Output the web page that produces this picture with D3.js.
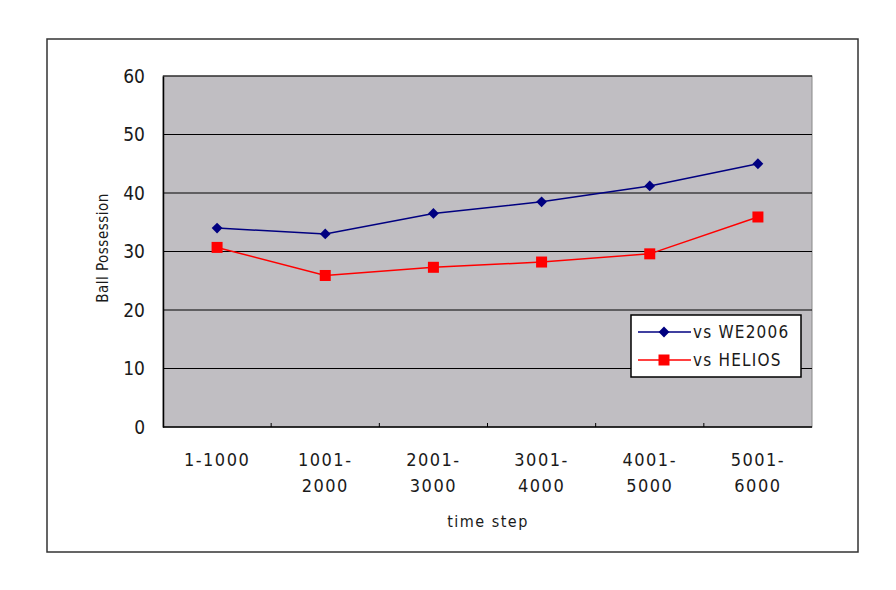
<!DOCTYPE html>
<html>
<head>
<meta charset="utf-8">
<script src="https://cdn.jsdelivr.net/npm/d3@7"></script>
<style>
  body { margin: 0; background: #fff; }
  text { font-family: "DejaVu Sans Condensed", "DejaVu Sans", sans-serif; fill: #1a1a1a; }
</style>
</head>
<body>
<svg id="chart" width="896" height="590"></svg>
<script>
// data
let categories = [["1-1000"], ["1001-", "2000"], ["2001-", "3000"], ["3001-", "4000"], ["4001-", "5000"], ["5001-", "6000"]];
let we2006 = [34.0, 33.0, 36.5, 38.5, 41.2, 45.0];
let helios = [30.7, 25.9, 27.3, 28.2, 29.6, 35.9];
let yTicks = [0, 10, 20, 30, 40, 50, 60];
let seriesNames = ["vs WE2006", "vs HELIOS"];

let fontStack = "DejaVu Sans Condensed, DejaVu Sans, sans-serif";
let svg = d3.select("#chart");

let plotLeft = 163, plotRight = 812, plotTop = 76, plotBottom = 427;

// outer frame
svg.append("rect")
    .attr("x", 47).attr("y", 39)
    .attr("width", 811).attr("height", 513)
    .style("fill", "#fff")
    .style("stroke", "#333")
    .style("stroke-width", "1.5px");

let xScale = d3.scaleBand()
    .domain(d3.range(categories.length))
    .range([plotLeft, plotRight]);
let yScale = d3.scaleLinear()
    .domain([0, 60])
    .range([plotBottom, plotTop]);

// plot area
svg.append("rect")
    .attr("x", plotLeft).attr("y", plotTop)
    .attr("width", plotRight - plotLeft).attr("height", plotBottom - plotTop)
    .style("fill", "#c0bec2")
    .style("stroke", "#888")
    .style("stroke-width", "1px");

// gridlines
svg.append("g")
    .selectAll("line")
    .data(yTicks.filter(d => d > 0))
    .join("line")
    .attr("x1", plotLeft).attr("x2", plotRight)
    .attr("y1", d => yScale(d)).attr("y2", d => yScale(d))
    .style("stroke", "#000")
    .style("stroke-width", "1.2px");

// y axis
let leftAxis = d3.axisLeft(yScale).tickValues(yTicks).tickSize(0).tickPadding(18);
let gy = svg.append("g")
    .attr("transform", "translate(" + plotLeft + ",0)")
    .call(leftAxis);
gy.select(".domain").style("stroke", "#000").style("stroke-width", "1.5px");
gy.selectAll("text")
    .style("font-size", "19px")
    .style("font-family", fontStack)
    .style("fill", "#1a1a1a");

// x axis
let gx = svg.append("g")
    .attr("transform", "translate(0," + plotBottom + ")");
gx.append("line")
    .attr("x1", plotLeft).attr("x2", plotRight)
    .style("stroke", "#000").style("stroke-width", "1.5px");
gx.selectAll(".tick")
    .data(d3.range(1, categories.length))
    .join("line")
    .attr("class", "tick")
    .attr("x1", d => xScale(d)).attr("x2", d => xScale(d))
    .attr("y1", 0).attr("y2", -4)
    .style("stroke", "#000");
gx.selectAll(".lbl")
    .data(categories)
    .join("text")
    .attr("class", "lbl")
    .attr("text-anchor", "middle")
    .style("font-size", "18px")
    .style("letter-spacing", "1.5px")
    .attr("transform", (d, i) => "translate(" + (xScale(i) + xScale.bandwidth() / 2) + ",0)")
    .selectAll("tspan")
    .data(d => d)
    .join("tspan")
    .attr("x", 0)
    .attr("y", (d, j) => 39 + j * 26)
    .text(d => d);

// axis titles
svg.append("text")
    .attr("x", 488).attr("y", 527)
    .attr("text-anchor", "middle")
    .style("font-size", "16px")
    .style("letter-spacing", "1.5px")
    .text("time step");
svg.append("text")
    .attr("transform", "translate(108,248) rotate(-90)")
    .attr("text-anchor", "middle")
    .style("font-size", "15px")
    .style("letter-spacing", "0.5px")
    .text("Ball Possession");

let line = d3.line()
    .x((d, i) => xScale(i) + xScale.bandwidth() / 2)
    .y(d => yScale(d));

function marker(sel, kind, color) {
    if (kind === "diamond") {
        sel.append("path")
            .attr("d", d3.symbol().type(d3.symbolSquare).size(58)())
            .attr("transform", "rotate(45)")
            .style("fill", color);
    } else {
        sel.append("rect")
            .attr("x", -5.5).attr("y", -5.5)
            .attr("width", 11).attr("height", 11)
            .style("fill", color);
    }
}

function series(values, color, kind) {
    svg.append("path")
        .datum(values)
        .attr("d", line)
        .style("fill", "none")
        .style("stroke", color)
        .style("stroke-width", "1.5px");
    svg.append("g")
        .selectAll("g")
        .data(values)
        .join("g")
        .attr("transform", (d, i) => "translate(" + (xScale(i) + xScale.bandwidth() / 2) + "," + yScale(d) + ")")
        .each(function() { marker(d3.select(this), kind, color); });
}

series(we2006, "#000080", "diamond");
series(helios, "#ff0000", "square");

// legend
let legend = svg.append("g").attr("transform", "translate(631,315)");
legend.append("rect")
    .attr("width", 170).attr("height", 62)
    .style("fill", "#fff")
    .style("stroke", "#000")
    .style("stroke-width", "1.5px");
let kinds = [["#000080", "diamond"], ["#ff0000", "square"]];
seriesNames.forEach((name, i) => {
    let row = legend.append("g").attr("transform", "translate(0," + (17 + i * 28) + ")");
    row.append("line")
        .attr("x1", 7).attr("x2", 60)
        .style("stroke", kinds[i][0])
        .style("stroke-width", "1.5px");
    row.append("g").attr("transform", "translate(33,0)")
        .call(g => marker(g, kinds[i][1], kinds[i][0]));
    row.append("text")
        .attr("x", 62).attr("y", 6)
        .style("font-size", "17px")
        .style("letter-spacing", "1.2px")
        .text(name);
});
</script>
</body>
</html>
